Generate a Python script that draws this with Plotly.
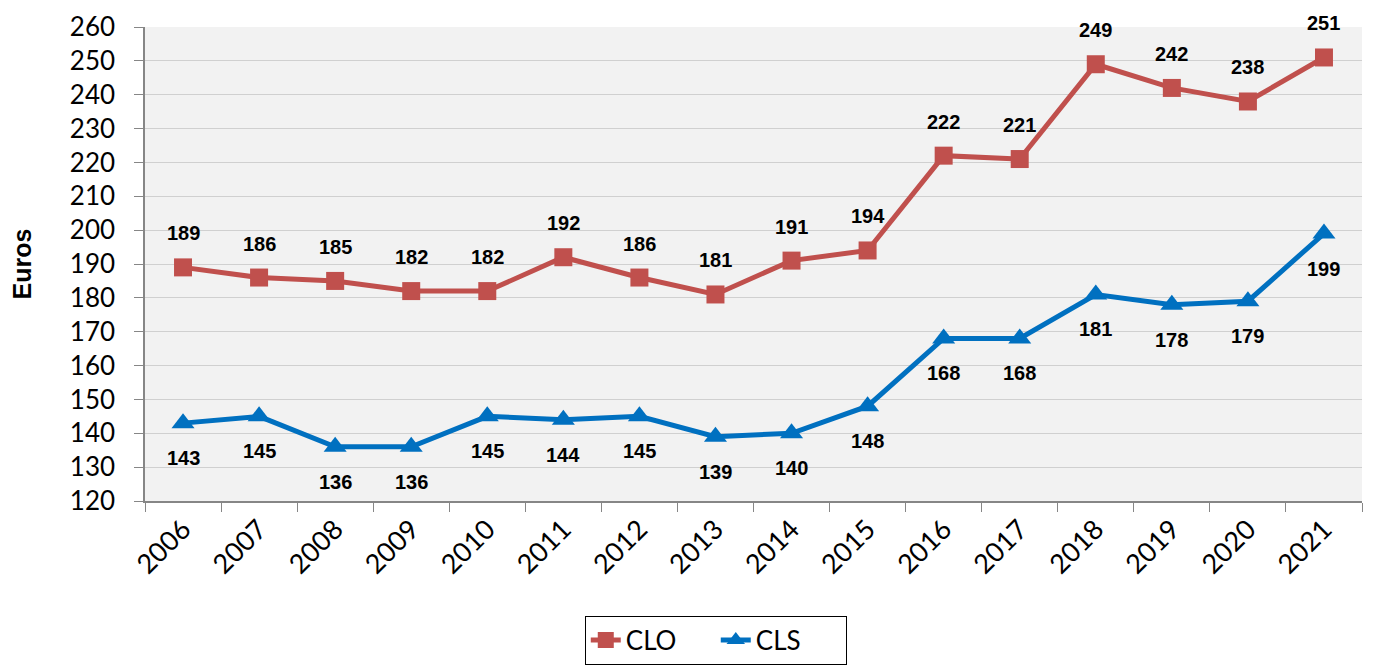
import plotly.graph_objects as go

years = [str(y) for y in range(2006, 2022)]
clo = [189, 186, 185, 182, 182, 192, 186, 181, 191, 194, 222, 221, 249, 242, 238, 251]
cls = [143, 145, 136, 136, 145, 144, 145, 139, 140, 148, 168, 168, 181, 178, 179, 199]
yticks = list(range(120, 261, 10))

RED = "#C0504D"
BLUE = "#0070C0"
TICKFONT = dict(family="Lato, Open Sans, sans-serif", size=26, color="black")
LABFONT = dict(family="Liberation Sans, Arial, sans-serif", size=20, color="black")

fig = go.Figure()
fig.add_trace(go.Scatter(x=years, y=clo, name="CLO", mode="lines+markers",
                         line=dict(color=RED, width=5),
                         marker=dict(symbol="square", size=18, color=RED)))
fig.add_trace(go.Scatter(x=years, y=cls, name="CLS", mode="lines+markers",
                         line=dict(color=BLUE, width=5),
                         marker=dict(symbol="triangle-up", size=20, color=BLUE)))

for i, v in enumerate(clo):
    fig.add_annotation(x=i, y=v, xref="x", yref="y", text="<b>%d</b>" % v,
                       showarrow=False, yshift=34, font=LABFONT)
for i, v in enumerate(cls):
    fig.add_annotation(x=i, y=v, xref="x", yref="y", text="<b>%d</b>" % v,
                       showarrow=False, yshift=-35, font=LABFONT)

fig.update_layout(
    width=1365, height=658,
    margin=dict(l=137, r=11, t=19, b=165, autoexpand=False),
    paper_bgcolor="white", plot_bgcolor="#F2F2F2",
    showlegend=True,
    legend=dict(orientation="h", x=0.469, y=-0.345, xanchor="center", yanchor="bottom",
                bordercolor="black", borderwidth=1, bgcolor="white",
                font=dict(family="Lato, Open Sans, sans-serif", size=26, color="black"),
                entrywidth=85, entrywidthmode="pixels", tracegroupgap=0),
    xaxis=dict(type="category", range=[-0.5, 15.5], tickangle=-45, tickson="boundaries",
               ticks="outside", ticklen=9, tickcolor="#868686", showline=True,
               linecolor="#868686", linewidth=1.5, showgrid=False,
               tickfont=dict(family="Lato, Open Sans, sans-serif", size=27, color="black"),
               automargin=False),
    yaxis=dict(range=[120, 260], tickvals=yticks, ticks="outside", ticklen=9,
               tickcolor="#868686", showline=True, linecolor="#868686", linewidth=1.5,
               gridcolor="#D0D0D0", gridwidth=1, tickfont=TICKFONT, zeroline=False,
               ticklabelstandoff=14, automargin=False, ticklabeloverflow="allow",
               title=dict(text="<b>Euros</b>", standoff=36,
                          font=dict(family="Liberation Sans, Arial, sans-serif", size=25, color="black"))),
)

fig.write_html("out.html")
